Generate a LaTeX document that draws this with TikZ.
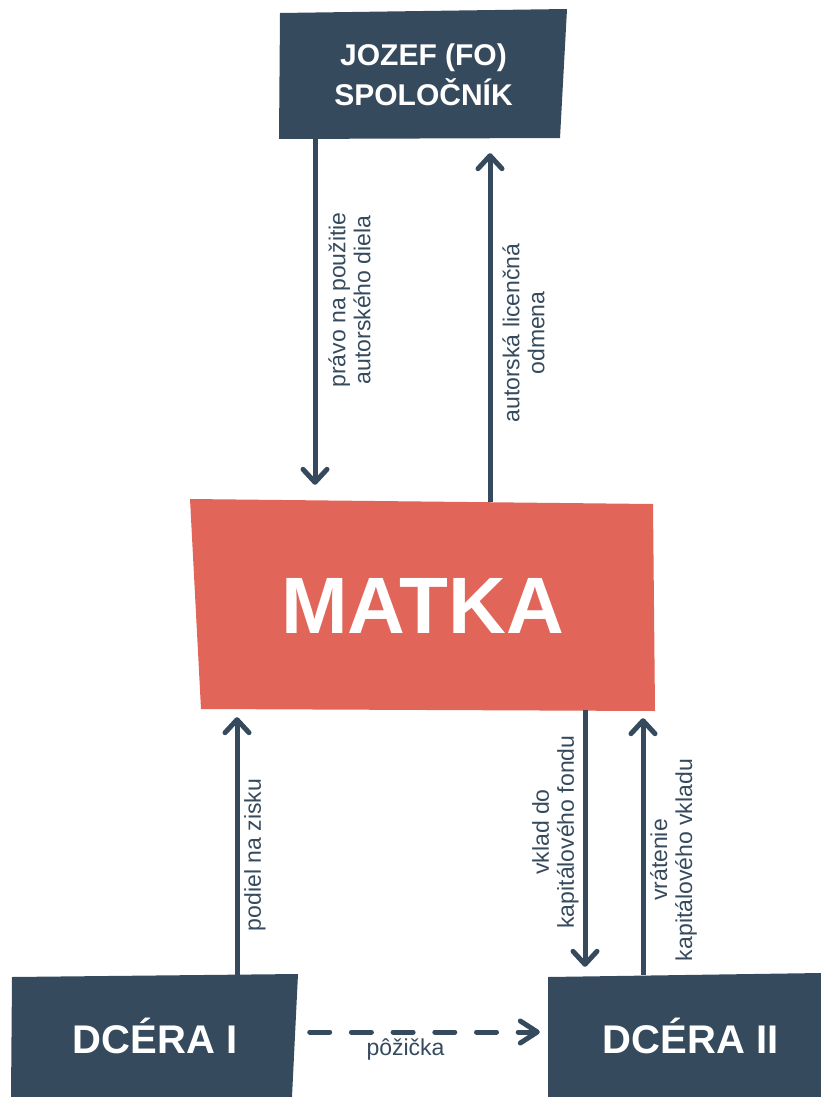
\documentclass[tikz,border=0pt]{standalone}
\usepackage{fontspec}
\setmainfont{Liberation Sans}
\usepackage{tikz}
\usetikzlibrary{arrows.meta}
\definecolor{slate}{HTML}{364A5E}
\definecolor{coral}{HTML}{E26559}

\begin{document}
\begin{tikzpicture}[x=1pt, y=-1pt,
    box/.style={text=white, align=center, inner sep=0pt},
    lbl/.style={text=slate, font=\fontsize{23}{25}\selectfont, align=center, inner sep=0pt},
    arr/.style={draw=slate, line width=5pt, -{Straight Barb[round, length=13pt, width=24pt]}}]
        \useasboundingbox (0,0) rectangle (821,1097);
        \fill[slate] (280,13) -- (567,9) -- (560,138) -- (279,139) -- cycle;
        \fill[coral] (190,499) -- (653,504) -- (655,711) -- (201,709) -- cycle;
        \fill[slate] (12,977) -- (298,974) -- (292,1097) -- (11,1097) -- cycle;
        \fill[slate] (548,977) -- (821,973) -- (821,1097) -- (548,1097) -- cycle;

        \node[box, minimum width=282pt, minimum height=128pt, font=\bfseries\fontsize{30}{40}\selectfont] (jozef) at (423.5,75) {JOZEF (FO)\\SPOLOČNÍK};
        \node[box, minimum width=464pt, minimum height=208pt, font=\bfseries\fontsize{80}{80}\selectfont] (matka) at (422.5,606) {\raisebox{-3pt}{MATKA}};
        \node[box, minimum width=286pt, minimum height=122pt, font=\bfseries\fontsize{40}{40}\selectfont] (dcera1) at (155,1036) {DCÉRA I};
        \node[box, minimum width=285pt, minimum height=122pt, font=\bfseries\fontsize{40}{40}\selectfont] (dcera2) at (690.5,1036) {DCÉRA II};

        \draw[arr] ([xshift=-108.5pt]jozef.south) -- ([xshift=-107.5pt, yshift=17pt]matka.north);
        \draw[arr] ([xshift=67.5pt]matka.north) -- ([xshift=66.5pt, yshift=-14pt]jozef.south);
        \draw[arr] ([xshift=82pt]dcera1.north) -- ([xshift=-185.5pt, yshift=-7pt]matka.south);
        \draw[arr] ([xshift=162.5pt]matka.south) -- ([xshift=-105.5pt, yshift=8pt]dcera2.north);
        \draw[arr] ([xshift=-47.5pt]dcera2.north) -- ([xshift=220.5pt, yshift=-8pt]matka.south);
        %%
        \draw[arr, line cap=round, dash pattern=on 20pt off 21.7pt, -{Straight Barb[round, length=17pt, width=22pt]}] ([xshift=11.5pt, yshift=4pt]dcera1.east) -- ([xshift=-8pt, yshift=4pt]dcera2.west);

        \node[lbl, rotate=90] (pravo) at (349.5,300) {právo na použitie\\autorského diela};
        \node[lbl, rotate=90] (odmena) at (523.5,333) {autorská licenčná\\odmena};
        \node[lbl, rotate=90] (podiel) at (255,855) {podiel na zisku};
        \node[lbl, rotate=90] (vklad) at (555.5,832) {vklad do\\kapitálového fondu};
        \node[lbl, rotate=90] (vratenie) at (673.5,860) {vrátenie\\kapitálového vkladu};
        \node[lbl] (pozicka) at (405.5,1050) {pôžička};
    \end{tikzpicture}
\end{document}
